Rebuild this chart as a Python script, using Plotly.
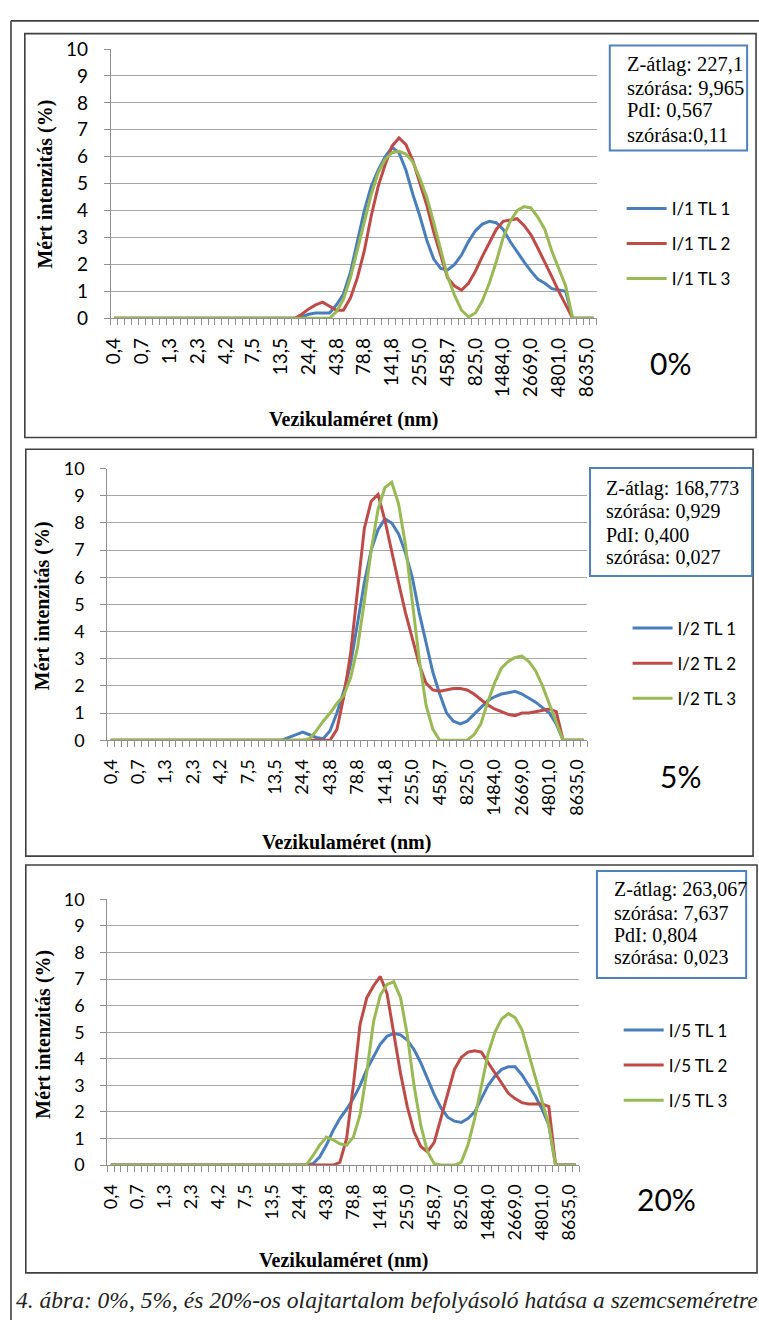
import plotly.graph_objects as go

W, H = 759, 1331

# ---------------- data ----------------
size_bins = [0.4, 0.4632, 0.5365, 0.6213, 0.7195, 0.8332, 0.9649, 1.117, 1.294, 1.499,
             1.736, 2.01, 2.328, 2.696, 3.122, 3.615, 4.187, 4.849, 5.615, 6.503,
             7.531, 8.721, 10.1, 11.7, 13.54, 15.69, 18.17, 21.04, 24.36, 28.21,
             32.67, 37.84, 43.82, 50.75, 58.77, 68.06, 78.82, 91.28, 105.7, 122.4,
             141.8, 164.2, 190.1, 220.2, 255.0, 295.3, 342.0, 396.1, 458.7, 531.2,
             615.1, 712.4, 825.0, 955.4, 1106, 1281, 1484, 1718, 1990, 2305,
             2669, 3091, 3580, 4145, 4801, 5560, 6439, 7456, 8635, 10000]
tick_labels = ["0,4", "0,7", "1,3", "2,3", "4,2", "7,5", "13,5", "24,4", "43,8",
               "78,8", "141,8", "255,0", "458,7", "825,0", "1484,0", "2669,0",
               "4801,0", "8635,0"]
tick_step = 4

i1_tl1 = [0, 0, 0, 0, 0, 0, 0, 0, 0, 0, 0, 0, 0, 0, 0, 0, 0, 0, 0, 0,
          0, 0, 0, 0, 0, 0, 0, 0.05, 0.15, 0.2, 0.2, 0.2, 0.5, 0.9, 1.7, 2.8, 4.0, 4.9, 5.5, 6.0,
          6.35, 6.15, 5.5, 4.6, 3.8, 2.9, 2.2, 1.85, 1.8, 2.0, 2.35, 2.85, 3.25, 3.5, 3.6, 3.55, 3.3, 2.85, 2.45, 2.1,
          1.75, 1.45, 1.3, 1.1, 1.05, 1.0, 0, 0, 0, 0]
i1_tl2 = [0, 0, 0, 0, 0, 0, 0, 0, 0, 0, 0, 0, 0, 0, 0, 0, 0, 0, 0, 0,
          0, 0, 0, 0, 0, 0, 0, 0.15, 0.35, 0.5, 0.6, 0.45, 0.3, 0.3, 0.75, 1.5, 2.5, 3.8, 4.9, 5.7,
          6.4, 6.7, 6.45, 5.85, 5.05, 4.2, 3.2, 2.3, 1.5, 1.2, 1.05, 1.3, 1.75, 2.3, 2.8, 3.3, 3.6, 3.65, 3.7, 3.45,
          3.1, 2.6, 2.1, 1.55, 1.0, 0.5, 0, 0, 0, 0]
i1_tl3 = [0, 0, 0, 0, 0, 0, 0, 0, 0, 0, 0, 0, 0, 0, 0, 0, 0, 0, 0, 0,
          0, 0, 0, 0, 0, 0, 0, 0, 0, 0, 0, 0, 0.25, 0.7, 1.5, 2.5, 3.6, 4.6, 5.4, 5.9,
          6.15, 6.2, 6.1, 5.8, 5.2, 4.5, 3.55, 2.55, 1.55, 0.85, 0.3, 0.05, 0.2, 0.65, 1.3, 2.1, 3.0, 3.6, 4.0, 4.15,
          4.1, 3.75, 3.3, 2.5, 1.85, 1.2, 0, 0, 0, 0]

i2_tl1 = [0, 0, 0, 0, 0, 0, 0, 0, 0, 0, 0, 0, 0, 0, 0, 0, 0, 0, 0, 0,
          0, 0, 0, 0, 0, 0, 0.1, 0.2, 0.3, 0.2, 0.1, 0.05, 0.35, 1.0, 1.8, 2.8, 4.3, 5.8, 7.0, 7.75,
          8.15, 8.0, 7.6, 6.9, 6.0, 4.7, 3.6, 2.5, 1.7, 1.0, 0.7, 0.6, 0.7, 0.95, 1.2, 1.45, 1.6, 1.7, 1.75, 1.8,
          1.7, 1.55, 1.4, 1.2, 1.0, 0.6, 0, 0, 0, 0]
i2_tl2 = [0, 0, 0, 0, 0, 0, 0, 0, 0, 0, 0, 0, 0, 0, 0, 0, 0, 0, 0, 0,
          0, 0, 0, 0, 0, 0, 0, 0, 0, 0, 0, 0, 0, 0.4, 1.6, 3.2, 5.6, 7.8, 8.8, 9.05,
          8.1, 6.9, 5.8, 4.7, 3.7, 2.8, 2.1, 1.85, 1.8, 1.85, 1.9, 1.9, 1.85, 1.7, 1.5, 1.3, 1.15, 1.05, 0.95, 0.9,
          1.0, 1.0, 1.05, 1.1, 1.15, 1.05, 0, 0, 0, 0]
i2_tl3 = [0, 0, 0, 0, 0, 0, 0, 0, 0, 0, 0, 0, 0, 0, 0, 0, 0, 0, 0, 0,
          0, 0, 0, 0, 0, 0, 0, 0, 0, 0.05, 0.35, 0.7, 1.0, 1.35, 1.65, 2.3, 3.4, 5.1, 7.0, 8.5,
          9.3, 9.5, 8.7, 7.2, 5.0, 3.0, 1.3, 0.4, 0, 0, 0, 0, 0, 0.2, 0.6, 1.4, 2.1, 2.65, 2.9, 3.05,
          3.1, 2.9, 2.55, 2.0, 1.35, 0.65, 0, 0, 0, 0]

i5_tl1 = [0, 0, 0, 0, 0, 0, 0, 0, 0, 0, 0, 0, 0, 0, 0, 0, 0, 0, 0, 0,
          0, 0, 0, 0, 0, 0, 0, 0, 0, 0, 0.05, 0.3, 0.75, 1.3, 1.75, 2.1, 2.5, 3.0, 3.6, 4.1,
          4.55, 4.85, 4.95, 4.9, 4.7, 4.35, 3.85, 3.25, 2.65, 2.15, 1.8, 1.65, 1.6, 1.75, 2.0, 2.5, 3.0, 3.35, 3.6, 3.7,
          3.7, 3.4, 3.0, 2.6, 2.1, 1.5, 0, 0, 0, 0]
i5_tl2 = [0, 0, 0, 0, 0, 0, 0, 0, 0, 0, 0, 0, 0, 0, 0, 0, 0, 0, 0, 0,
          0, 0, 0, 0, 0, 0, 0, 0, 0, 0, 0, 0, 0, 0, 0.1, 1.0, 3.0, 5.3, 6.3, 6.75,
          7.1, 6.45, 4.95, 3.45, 2.2, 1.25, 0.7, 0.5, 0.85, 1.75, 2.7, 3.6, 4.05, 4.25, 4.3, 4.25, 3.85, 3.45, 3.05, 2.7,
          2.5, 2.35, 2.3, 2.3, 2.3, 2.2, 0, 0, 0, 0]
i5_tl3 = [0, 0, 0, 0, 0, 0, 0, 0, 0, 0, 0, 0, 0, 0, 0, 0, 0, 0, 0, 0,
          0, 0, 0, 0, 0, 0, 0, 0, 0, 0, 0.35, 0.75, 1.05, 0.95, 0.8, 0.75, 1.05, 1.9, 3.5, 5.4,
          6.4, 6.8, 6.9, 6.3, 4.9, 3.0, 1.5, 0.5, 0.05, 0, 0, 0, 0.1, 0.75, 1.75, 3.0, 4.2, 5.0, 5.5, 5.7,
          5.55, 5.1, 4.2, 3.2, 2.35, 1.5, 0, 0, 0, 0]

panels = [
    dict(names=["I/1 TL 1", "I/1 TL 2", "I/1 TL 3"], series=[i1_tl1, i1_tl2, i1_tl3],
         pct="0%", stats=["Z-átlag: 227,1", "szórása: 9,965", "PdI: 0,567", "szórása:0,11"]),
    dict(names=["I/2 TL 1", "I/2 TL 2", "I/2 TL 3"], series=[i2_tl1, i2_tl2, i2_tl3],
         pct="5%", stats=["Z-átlag: 168,773", "szórása: 0,929", "PdI: 0,400", "szórása: 0,027"]),
    dict(names=["I/5 TL 1", "I/5 TL 2", "I/5 TL 3"], series=[i5_tl1, i5_tl2, i5_tl3],
         pct="20%", stats=["Z-átlag: 263,067", "szórása: 7,637", "PdI: 0,804", "szórása: 0,023"]),
]
caption = "4. ábra: 0%, 5%, és 20%-os olajtartalom befolyásoló hatása a szemcseméretre"

# ---------------- styling / layout ----------------
colors = ["#4A7EBB", "#BE4B48", "#98B954"]
grid_c = "#a6a6a6"
axis_c = "#8f8f8f"
frame_c = "#404040"
SANS = "Lato"
SERIF = "Liberation Serif"


def px(x):
    return x / W


def py(y):
    return 1 - y / H


geo = [
    dict(plot=(103, 595, 37.7, 311.7), frame=(16, 756, 22, 433), tick=19, leg_font=17,
         leg=(620, 182), statbox=(608, 747, 34, 141), stat_x=623, stat_y=[53, 77, 100, 125],
         stat_font=20.5, pct=(669, 357), ytitle=(37, 175), xtitle=(349, 415)),
    dict(plot=(99.5, 585, 464.7, 741), frame=(17, 753, 445, 859), tick=18, leg_font=17,
         leg=(626, 609), statbox=(588, 752, 464, 574), stat_x=602, stat_y=[485, 508, 532, 555],
         stat_font=20, pct=(680, 777), ytitle=(34, 604), xtitle=(342, 845)),
    dict(plot=(99.5, 577, 903, 1173.3), frame=(17, 757, 868, 1283), tick=18, leg_font=17,
         leg=(617, 1018), statbox=(595, 746, 874, 983), stat_x=610, stat_y=[893, 917, 939, 962],
         stat_font=20, pct=(665, 1208), ytitle=(34, 1040), xtitle=(339, 1270)),
]

x_idx = list(range(len(size_bins)))
tickvals = x_idx[::tick_step]

fig = go.Figure()
shapes = []
annotations = []
layout_axes = {}

for k, (p, g) in enumerate(zip(panels, geo)):
    sfx = "" if k == 0 else str(k + 1)
    xa, ya = "x" + sfx, "y" + sfx
    legname = "legend" + sfx
    for j, (name, vals) in enumerate(zip(p["names"], p["series"])):
        fig.add_trace(go.Scatter(
            x=x_idx, y=vals, name=name, mode="lines",
            line=dict(color=colors[j], width=3),
            xaxis=xa, yaxis=ya, legend=legname, legendgroup=name,
        ))
    x0, x1, ytop, ybot = g["plot"]
    layout_axes["xaxis" + sfx] = dict(
        domain=[px(x0), px(x1)], anchor=ya, range=[-0.5, len(size_bins) - 0.5],
        showgrid=False, zeroline=False, showline=True, linecolor=axis_c, linewidth=1,
        tickmode="array", tickvals=tickvals, ticktext=tick_labels, tickangle=-90,
        ticks="outside", ticklen=11, tickcolor="rgba(0,0,0,0)",
        tickfont=dict(family=SANS, size=g["tick"], color="#000"),
        minor=dict(ticks="outside", ticklen=6, tickcolor=axis_c, tick0=-0.5, dtick=1,
                   showgrid=False),
        fixedrange=True,
    )
    layout_axes["yaxis" + sfx] = dict(
        domain=[py(ybot), py(ytop)], anchor=xa, range=[0, 10], dtick=1, tick0=0,
        showgrid=True, gridcolor=grid_c, gridwidth=1, zeroline=False,
        showline=True, linecolor=axis_c, linewidth=1,
        ticks="outside", ticklen=6, tickcolor=axis_c, ticklabelstandoff=12,
        tickfont=dict(family=SANS, size=g["tick"], color="#000"),
        fixedrange=True,
    )
    lx, ly = g["leg"]
    layout_axes[legname] = dict(
        x=px(lx), y=py(ly), xanchor="left", yanchor="top",
        font=dict(family=SANS, size=g["leg_font"], color="#000"),
        bgcolor="rgba(0,0,0,0)", tracegroupgap=10, itemwidth=40,
        traceorder="grouped",
    )
    fx0, fx1, fy0, fy1 = g["frame"]
    shapes.append(dict(type="rect", xref="paper", yref="paper",
                       x0=px(fx0), x1=px(fx1), y0=py(fy1), y1=py(fy0),
                       line=dict(color=frame_c, width=1.6)))
    bx0, bx1, by0, by1 = g["statbox"]
    shapes.append(dict(type="rect", xref="paper", yref="paper",
                       x0=px(bx0), x1=px(bx1), y0=py(by1), y1=py(by0),
                       line=dict(color="#4F81BD", width=2), fillcolor="white"))
    for line_txt, ly_ in zip(p["stats"], g["stat_y"]):
        annotations.append(dict(xref="paper", yref="paper", x=px(g["stat_x"]), y=py(ly_),
                                xanchor="left", yanchor="middle", align="left", showarrow=False,
                                text=line_txt,
                                font=dict(family=SERIF, size=g["stat_font"], color="#000")))
    cx, cy = g["pct"]
    annotations.append(dict(xref="paper", yref="paper", x=px(cx), y=py(cy),
                            xanchor="center", yanchor="middle", showarrow=False,
                            text=p["pct"], font=dict(family=SANS, size=30, color="#000")))
    yx, yy = g["ytitle"]
    annotations.append(dict(xref="paper", yref="paper", x=px(yx), y=py(yy),
                            xanchor="center", yanchor="middle", showarrow=False, textangle=-90,
                            text="<b>Mért intenzitás (%)</b>",
                            font=dict(family=SERIF, size=20, color="#000")))
    xx, xy = g["xtitle"]
    annotations.append(dict(xref="paper", yref="paper", x=px(xx), y=py(xy),
                            xanchor="center", yanchor="middle", showarrow=False,
                            text="<b>Vezikulaméret (nm)</b>",
                            font=dict(family=SERIF, size=20, color="#000")))

# page frame lines
shapes.append(dict(type="line", xref="paper", yref="paper", x0=px(2), x1=1, y0=py(9), y1=py(9),
                   line=dict(color=frame_c, width=1.6)))
shapes.append(dict(type="line", xref="paper", yref="paper", x0=px(2), x1=px(2), y0=py(9), y1=0,
                   line=dict(color=frame_c, width=1.6)))

annotations.append(dict(xref="paper", yref="paper", x=px(5), y=py(1311),
                        xanchor="left", yanchor="middle", showarrow=False,
                        text="<i>" + caption + "</i>",
                        font=dict(family=SERIF, size=23.5, color="#222")))

fig.update_layout(
    width=W, height=H, autosize=False,
    margin=dict(l=0, r=0, t=0, b=0),
    paper_bgcolor="white", plot_bgcolor="white",
    showlegend=True,
    shapes=shapes, annotations=annotations,
    **layout_axes,
)

fig.write_html(
    "out.html",
    config={"responsive": False, "displayModeBar": False},
    post_script=(
        "document.documentElement.style.margin='0';"
        "document.body.style.margin='0';document.body.style.padding='0';"
        "document.body.style.overflow='hidden';"
        "var d=document.getElementById('{plot_id}');"
        "d.style.position='absolute';d.style.left='0px';d.style.top='0px';"
    ),
)
